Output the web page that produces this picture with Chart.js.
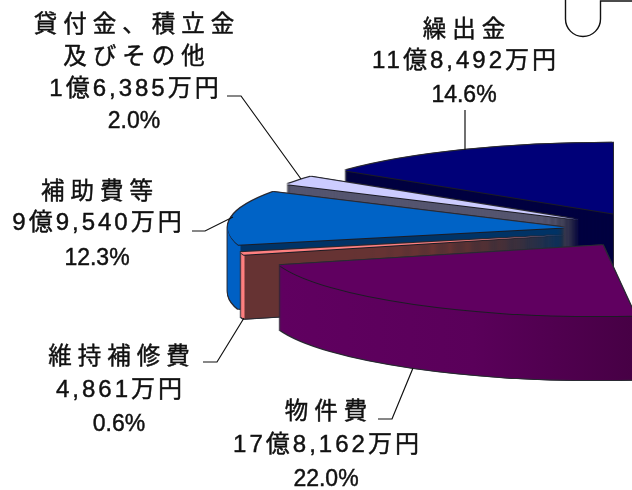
<!DOCTYPE html>
<html lang="ja">
<head>
<meta charset="utf-8">
<title>歳出</title>
<script src="https://cdn.jsdelivr.net/npm/chart.js@4/dist/chart.umd.js"></script>
<style>
  html, body { margin: 0; padding: 0; background: #fff; }
  canvas { display: block; }
</style>
</head>
<body>
<canvas id="chart" width="632" height="490"></canvas>
<script>
// Values in 万円, clockwise from 12 o'clock. The first one is the part of the pie
// that is not shown in the picture, so it stays transparent.
const categories = ["その他", "物件費", "維持補修費", "補助費等", "貸付金、積立金及びその他", "繰出金"];
const amounts = [392560, 178162, 4861, 99540, 16385, 118492];
const topColors = ["rgba(0,0,0,0)", "#600060", "#ff8080", "#0063c6", "#ccccff", "#000078"];
const faceColors = [null, "#5c005c", "#663333", "#003366", "#55556f", "#000040"];
const rimColors = [null, "#470045", "#ff8080", "#0060c4", "#55556f", "#000040"];

const labelLines = [
  ["貸付金、積立金", "及びその他", "1億6,385万円", "2.0%"],
  ["繰出金", "11億8,492万円", "14.6%"],
  ["補助費等", "9億9,540万円", "12.3%"],
  ["維持補修費", "4,861万円", "0.6%"],
  ["物件費", "17億8,162万円", "22.0%"]
];

// Pie geometry measured on the reference
const CENTER_X = 652, CENTER_Y = 230;
const RADIUS = 337, SQUASH = 0.21, EXPLODE = 88, DEPTH = 64;

function placeArc(ctx, arc, dx, dy) {
  const half = (arc.startAngle + arc.endAngle) / 2;
  const tx = CENTER_X + Math.cos(half) * EXPLODE + dx;
  const ty = CENTER_Y + Math.sin(half) * EXPLODE * SQUASH + dy;
  ctx.translate(tx, ty);
  ctx.scale(1, SQUASH);
  ctx.translate(-arc.x, -arc.y);
}

function drawArcWith(ctx, arc, color, dx, dy) {
  const copy = Object.create(arc);
  copy.options = { ...arc.options, backgroundColor: color, borderWidth: 0 };
  ctx.save();
  placeArc(ctx, arc, dx, dy);
  copy.draw(ctx);
  ctx.restore();
}

// Side wall: the curved rim and the cut face get different colours, split on x
function wallPaint(ctx, arc, i) {
  const half = (arc.startAngle + arc.endAngle) / 2;
  const shift = CENTER_X + Math.cos(half) * EXPLODE - arc.x;
  if (i === 1) {
    const g = ctx.createLinearGradient(280 - shift, 0, 632 - shift, 0);
    g.addColorStop(0, "#600060");
    g.addColorStop(0.55, "#5a005a");
    g.addColorStop(1, rimColors[i]);
    return g;
  }
  const split = i === 2 ? 245 : i === 3 ? 241 : 0;
  if (!split) return faceColors[i];
  const g = ctx.createLinearGradient(split - 1 - shift, 0, split - shift, 0);
  g.addColorStop(0, rimColors[i]);
  g.addColorStop(1, faceColors[i]);
  return g;
}

const pie3d = {
  id: "pie3d",
  beforeDatasetDraw(chart, args) {
    const ctx = chart.ctx;
    const arcs = args.meta.data;
    // back to front
    for (let i = arcs.length - 1; i >= 1; i--) {
      const arc = arcs[i];
      for (let k = DEPTH + 1; k >= -1; k--) {
        drawArcWith(ctx, arc, "#2a2a33", -1, k);
        drawArcWith(ctx, arc, "#2a2a33", 1, k);
      }
      const paint = wallPaint(ctx, arc, i);
      for (let k = DEPTH; k >= 1; k--) {
        drawArcWith(ctx, arc, paint, 0, k);
      }
      drawArcWith(ctx, arc, "#1c1c24", 0, 1);
      drawArcWith(ctx, arc, topColors[i], 0, 0);
    }
    return false;
  },
  afterDraw(chart) {
    const ctx = chart.ctx;
    drawCallout(ctx);
    drawLeaders(ctx);
    drawLabels(ctx);
  }
};

function drawCallout(ctx) {
  ctx.save();
  ctx.strokeStyle = "#111";
  ctx.lineWidth = 1.4;
  ctx.beginPath();
  ctx.moveTo(565.5, -2);
  ctx.lineTo(565.5, 19);
  ctx.arc(583, 19, 17.5, Math.PI, 0, true);
  ctx.lineTo(600.5, 1);
  ctx.lineTo(634, 1);
  ctx.stroke();
  ctx.restore();
}

function drawLeaders(ctx) {
  const leaders = [
    [[227, 96], [241, 96], [301, 179]],
    [[465, 110], [465, 150]],
    [[192, 231], [205, 231], [233, 217]],
    [[203, 362], [217, 362], [244, 318]],
    [[378, 419], [392, 419], [413, 368]]
  ];
  ctx.save();
  ctx.strokeStyle = "#111";
  ctx.lineWidth = 1.2;
  leaders.forEach(pts => {
    ctx.beginPath();
    pts.forEach((p, n) => n ? ctx.lineTo(p[0], p[1]) : ctx.moveTo(p[0], p[1]));
    ctx.stroke();
  });
  ctx.restore();
}

function drawLabels(ctx) {
  const centers = [134, 464, 97, 119, 326];
  const rows = [[23, 55, 88, 120], [28, 60, 94], [190, 222, 257], [355, 389, 423], [410, 444, 478]];
  ctx.save();
  ctx.fillStyle = "#111";
  ctx.strokeStyle = "#111";
  ctx.lineWidth = 0.45;
  ctx.textAlign = "center";
  ctx.textBaseline = "middle";
  labelLines.forEach((lines, i) => {
    lines.forEach((line, n) => {
      let spacing = 3, size = 24, nudge = 1; // amounts
      if (/%$/.test(line)) { spacing = 0; size = 23; nudge = 1.5; }
      else if (!/[0-9]/.test(line)) { spacing = 6; size = 23.5; nudge = 2.5; }
      ctx.font = size + 'px "Liberation Sans", "Noto Sans CJK JP", sans-serif';
      ctx.letterSpacing = spacing + "px";
      const x = centers[i] + spacing / 2;
      ctx.fillText(line, x, rows[i][n] + nudge);
      ctx.strokeText(line, x, rows[i][n] + nudge);
    });
  });
  ctx.restore();
}

new Chart(document.getElementById("chart"), {
  type: "pie",
  data: {
    labels: categories,
    datasets: [{
      data: amounts,
      backgroundColor: topColors,
      borderWidth: 0
    }]
  },
  options: {
    responsive: false,
    animation: false,
    radius: RADIUS,
    plugins: {
      legend: { display: false },
      tooltip: { enabled: false }
    }
  },
  plugins: [pie3d]
});
</script>
</body>
</html>
